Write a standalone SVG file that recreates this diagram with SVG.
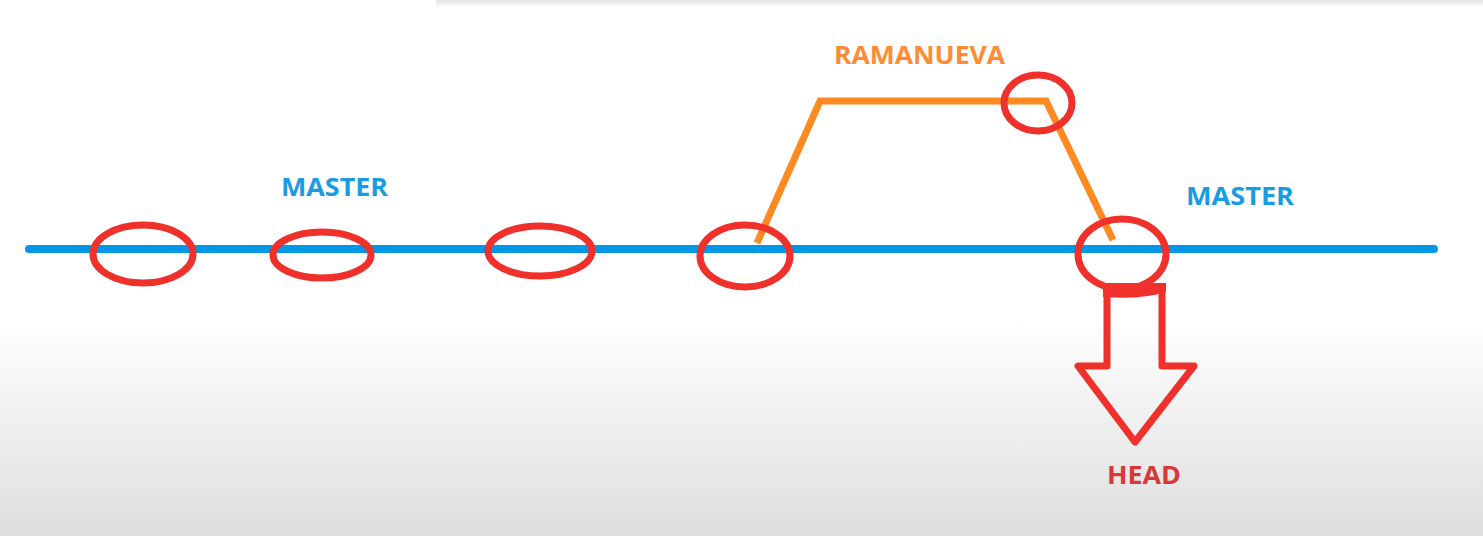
<svg xmlns="http://www.w3.org/2000/svg" width="1483" height="536" viewBox="0 0 1483 536">
  <defs>
    <linearGradient id="bg" x1="0" y1="0" x2="0" y2="1">
      <stop offset="0" stop-color="#ffffff"/>
      <stop offset="0.6" stop-color="#ffffff"/>
      <stop offset="1" stop-color="#dedede"/>
    </linearGradient>
    <linearGradient id="topbar" x1="0" y1="0" x2="0" y2="1">
      <stop offset="0" stop-color="#e4e4e4"/>
      <stop offset="1" stop-color="#ffffff"/>
    </linearGradient>
    <style>
      .commit { fill: none; stroke: #f0302a; stroke-width: 7; }
      .lbl { font-family: "Open Sans", "Liberation Sans", sans-serif; font-weight: bold; font-size: 25px; }
      .blue { fill: #1b9be2; }
    </style>
  </defs>
  <rect x="0" y="0" width="1483" height="536" fill="url(#bg)"/>
  <rect x="436" y="0" width="1047" height="7" fill="url(#topbar)"/>

  <g id="connectors">
    <line id="master-line" x1="29" y1="249" x2="1434" y2="249" stroke="#0098e6" stroke-width="8" stroke-linecap="round"/>
    <polyline id="branch-line" points="757,243 820,101 1046,101 1113,240" fill="none" stroke="#ff8a22" stroke-width="7" stroke-linejoin="miter"/>
  </g>

  <g id="commit1"><ellipse class="commit" cx="143" cy="254" rx="50" ry="29"/></g>
  <g id="commit2"><ellipse class="commit" cx="322" cy="255" rx="49" ry="23"/></g>
  <g id="commit3"><ellipse class="commit" cx="540" cy="251" rx="52" ry="25"/></g>
  <g id="commit4"><ellipse class="commit" cx="745" cy="256" rx="45" ry="31"/></g>
  <g id="commit5"><ellipse class="commit" cx="1038" cy="103" rx="34" ry="28"/></g>
  <g id="commit6"><ellipse class="commit" cx="1122" cy="254" rx="44" ry="35"/></g>

  <g id="head-arrow">
    <polygon points="1107,287 1162,287 1162,366 1194,366 1135,442 1078,366 1107,366" fill="none" stroke="#f0302a" stroke-width="7" stroke-linejoin="round"/>
    <path d="M1103,283 H1166 V292 Q1140,300 1103,297 Z" fill="#f0302a"/>
  </g>

  <g id="label-master1"><text class="lbl blue" x="281" y="196" textLength="107" lengthAdjust="spacingAndGlyphs">MASTER</text></g>
  <g id="label-master2"><text class="lbl blue" x="1186" y="205" textLength="108" lengthAdjust="spacingAndGlyphs">MASTER</text></g>
  <g id="label-branch"><text class="lbl" fill="#ff8c34" x="834" y="64" textLength="171" lengthAdjust="spacingAndGlyphs">RAMANUEVA</text></g>
  <g id="label-head"><text class="lbl" fill="#d8383a" x="1107" y="484" textLength="74" lengthAdjust="spacingAndGlyphs">HEAD</text></g>
</svg>
